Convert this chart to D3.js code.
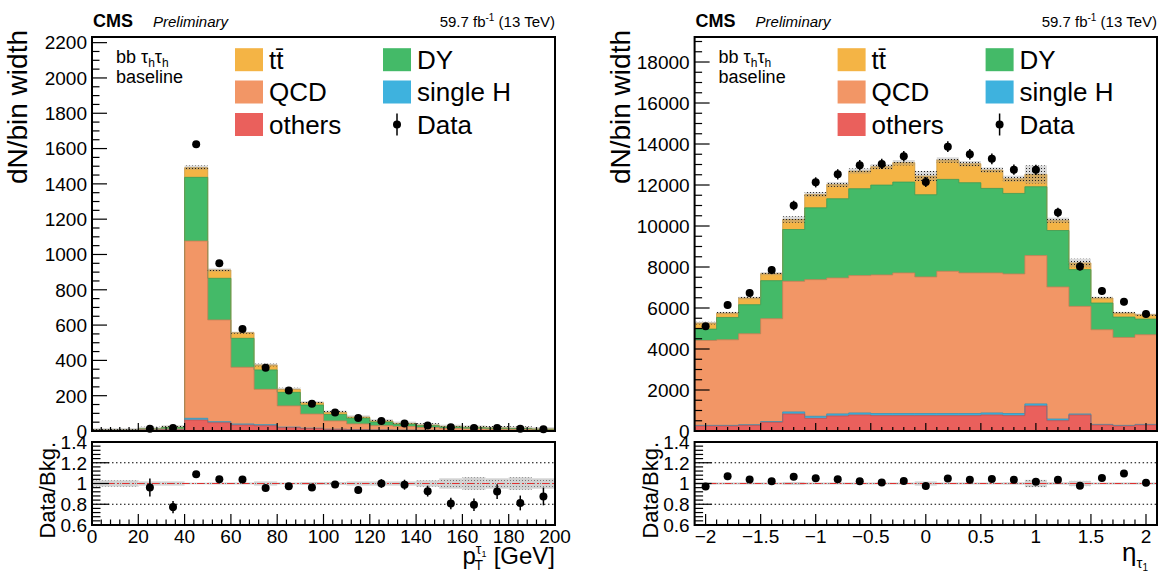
<!DOCTYPE html>
<html><head><meta charset="utf-8">
<script src="https://cdn.jsdelivr.net/npm/d3@7"></script>
<style>
body{margin:0;background:#fff}
svg{display:block}
text{font-family:"Liberation Sans",Arial,Helvetica,sans-serif;fill:#000}
</style>
</head><body><svg id="c" width="1159" height="574"></svg>
<script>
// ---------------- DATA ----------------
// Left: leading tau pT, 10 GeV bins
const ptEdges = [0,10,20,30,40,50,60,70,80,90,100,110,120,130,140,150,160,170,180,190,200];
const ptOthers  = [4,4,5,7,62,47,34,30,19,14,9,7,5,4,3,3,2,2,2,1];
const ptSingleH = [0,0,0,0,10,6,6,6,3,2,1,1,1,1,1,0,0,0,0,0];
const ptQCD     = [1,1,2,4,1004,576,321,200,120,80,47,32,24,20,16,12,10,8,7,5];
const ptDY      = [1,1,5,9,361,236,164,110,77,51,37,32,21,13,10,8,7,6,5,4];
const ptTT      = [0,0,1,2,55,47,32,28,17,13,12,7,6,5,4,3,3,2,2,2];
const ptData    = [null,null,12.5,17,1624,950,578,358,230,154,105,74,57,42.5,31.5,21,17.5,16.6,13,10.5];
const ptUnc     = [0.03,0.03,0.02,0.02,0.008,0.01,0.01,0.02,0.01,0.015,0.015,0.02,0.02,0.02,0.03,0.05,0.06,0.05,0.06,0.05];
const ptXTicks  = [0,20,40,60,80,100,120,140,160,180,200];
const ptXTickLabels = ["0","20","40","60","80","100","120","140","160","180","200"];
const ptYTicks  = [0,200,400,600,800,1000,1200,1400,1600,1800,2000,2200];
const ptYTickLabels = ["0","200","400","600","800","1000","1200","1400","1600","1800","2000","2200"];

// Right: leading tau eta, 0.2 bins
const etaEdges = [-2.1,-1.9,-1.7,-1.5,-1.3,-1.1,-0.9,-0.7,-0.5,-0.3,-0.1,0.1,0.3,0.5,0.7,0.9,1.1,1.3,1.5,1.7,1.9,2.1];
const etaOthers  = [245,245,277,424,831,619,734,782,750,750,750,750,750,782,750,1223,505,782,293,245,293];
const etaSingleH = [30,30,30,35,100,100,100,100,100,100,100,100,100,100,100,100,80,50,30,30,30];
const etaQCD     = [4140,4173,4436,5018,6371,6665,6631,6698,6762,6860,6664,6941,6860,6828,6811,7235,6440,5248,4616,4289,4371];
const etaDY      = [555,1092,1418,1858,2527,3504,3864,4238,4385,4434,4010,4483,4401,4124,3928,3357,2755,1793,1304,994,766];
const etaTT      = [293,212,326,342,489,652,700,863,896,945,913,945,929,896,718,603,505,326,244,196,212];
const etaData    = [5110,6150,6730,7850,11000,12130,12520,12965,13030,13400,12150,13870,13500,13275,12750,12740,10660,8030,6835,6310,5710];
const etaUnc     = [0.012,0.01,0.01,0.01,0.015,0.01,0.01,0.01,0.01,0.01,0.02,0.01,0.01,0.01,0.012,0.035,0.012,0.025,0.01,0.01,0.01];
const etaXTicks  = [-2,-1.5,-1,-0.5,0,0.5,1,1.5,2];
const etaXTickLabels = ["\u22122","\u22121.5","\u22121","\u22120.5","0","0.5","1","1.5","2"];
const etaYTicks  = [0,2000,4000,6000,8000,10000,12000,14000,16000,18000];
const etaYTickLabels = ["0","2000","4000","6000","8000","10000","12000","14000","16000","18000"];

const ratioTicks = [0.6,0.8,1,1.2,1.4];
const ratioTickLabels = ["0.6","0.8","1","1.2","1.4"];

const processNames  = ["others","single H","QCD","DY","t\u0074\u0304"];
const processColors = ["#EA605C","#3EB2DE","#F29666","#44BA68","#F4B445"];

// ---------------- DRAW ----------------
const svg = d3.select("#c");
const defs = svg.append("defs");
const hp = defs.append("pattern").attr("id","hatch").attr("width",3).attr("height",3).attr("patternUnits","userSpaceOnUse");
hp.append("rect").attr("width",3).attr("height",3).attr("fill","rgba(150,150,150,0.35)");
hp.append("rect").attr("width",1).attr("height",1).attr("fill","#222");
const rp = defs.append("pattern").attr("id","rhatch").attr("width",3).attr("height",3).attr("patternUnits","userSpaceOnUse");
rp.append("rect").attr("width",3).attr("height",3).attr("fill","#d2d2d2");
rp.append("rect").attr("width",1).attr("height",1).attr("fill","#777");

function rng(a,b,s){const out=[];const n=Math.round((b-a)/s);for(let i=0;i<=n;i++)out.push(+(a+i*s).toFixed(6));return out;}

function drawPanel(p){
  const g = svg.append("g");
  const fx0=p.fx0, fx1=p.fx1, ty0=37, ty1=431, ry0=442, ry1=525;
  const x = d3.scaleLinear().domain(p.xDomain).range([fx0,fx1]);
  const y = d3.scaleLinear().domain([0,p.yMax]).range([ty1,ty0]);
  const yr = d3.scaleLinear().domain([0.6,1.4]).range([ry1,ry0]);
  const n = p.edges.length-1;
  const cid = "clip"+p.id, rcid="rclip"+p.id;
  defs.append("clipPath").attr("id",cid).append("rect").attr("x",fx0).attr("y",ty0).attr("width",fx1-fx0).attr("height",ty1-ty0);
  defs.append("clipPath").attr("id",rcid).append("rect").attr("x",fx0).attr("y",ry0).attr("width",fx1-fx0).attr("height",ry1-ry0);

  // cumulative stack
  const layers=[p.others,p.singleH,p.qcd,p.dy,p.tt];
  let cum = new Array(n).fill(0);
  const cums = layers.map(l=>{cum=cum.map((c,i)=>c+l[i]);return cum.slice();});
  const total = cums[cums.length-1];
  const up = g.append("g").attr("clip-path",`url(#${cid})`);
  const stepPts = vals => p.edges.map((e,i)=>[e, vals[Math.min(i,n-1)]]);
  const area = d3.area().x(d=>x(d[0])).y0(y(0)).y1(d=>y(d[1])).curve(d3.curveStepAfter);
  const line = d3.line().x(d=>x(d[0])).y(d=>y(d[1])).curve(d3.curveStepAfter);
  for(let k=layers.length-1;k>=0;k--){
    up.append("path").attr("d",area(stepPts(cums[k]))).attr("fill",processColors[k]);
  }
  for(let k=layers.length-1;k>=0;k--){
    up.append("path").attr("d",line(stepPts(cums[k]))).attr("fill","none")
      .attr("stroke",d3.color(processColors[k]).darker(0.5)).attr("stroke-width",0.8);
  }
  // uncertainty band
  for(let i=0;i<n;i++){
    const u=p.unc[i];
    const yt=y(total[i]*(1+u)), yb=y(total[i]*(1-u));
    up.append("rect").attr("x",x(p.edges[i])).attr("y",Math.min(yt,yb-2)).attr("width",x(p.edges[i+1])-x(p.edges[i]))
      .attr("height",Math.max(yb-yt,2)).attr("fill","url(#hatch)");
  }
  // data
  const dg = g.append("g");
  for(let i=0;i<n;i++){
    const v=p.data[i]; if(v==null) continue;
    const cx = x((p.edges[i]+p.edges[i+1])/2);
    const w = p.binW;
    const err = Math.sqrt(v*w)/w;
    dg.append("line").attr("x1",cx).attr("x2",cx).attr("y1",y(v+err)).attr("y2",y(v-err)).attr("stroke","#000").attr("stroke-width",1.5);
    dg.append("circle").attr("cx",cx).attr("cy",y(v)).attr("r",4).attr("fill","#000");
  }

  // ratio pad
  const rg = g.append("g").attr("clip-path",`url(#${rcid})`);
  for(let i=0;i<n;i++){
    const u=p.unc[i];
    rg.append("rect").attr("x",x(p.edges[i])).attr("y",yr(1+u)).attr("width",x(p.edges[i+1])-x(p.edges[i]))
      .attr("height",Math.max(yr(1-u)-yr(1+u),1.5)).attr("fill","url(#rhatch)");
  }
  [0.8,1.2].forEach(v=>{
    rg.append("line").attr("x1",fx0).attr("x2",fx1).attr("y1",yr(v)).attr("y2",yr(v))
      .attr("stroke","#000").attr("stroke-width",1).attr("stroke-dasharray","1.5,2.5");
  });
  rg.append("line").attr("x1",fx0).attr("x2",fx1).attr("y1",yr(1)).attr("y2",yr(1))
    .attr("stroke","#e03030").attr("stroke-width",1.2).attr("stroke-dasharray","7,3,2,3");
  for(let i=0;i<n;i++){
    const v=p.data[i]; if(v==null) continue;
    const r=v/total[i];
    const cx = x((p.edges[i]+p.edges[i+1])/2);
    const w=p.binW, err=Math.sqrt(v*w)/w/total[i];
    rg.append("line").attr("x1",cx).attr("x2",cx).attr("y1",yr(r+err)).attr("y2",yr(r-err)).attr("stroke","#000").attr("stroke-width",1.5);
    rg.append("circle").attr("cx",cx).attr("cy",yr(r)).attr("r",4).attr("fill","#000");
  }

  // ticks
  const tk = g.append("g").attr("stroke","#000").attr("stroke-width",1.2);
  const xMinor = rng(p.xDomain[0],p.xDomain[1],p.xMinorStep);
  xMinor.forEach(v=>{
    const isMaj = p.xTicks.some(t=>Math.abs(t-v)<1e-6);
    const X=x(v);
    tk.append("line").attr("x1",X).attr("x2",X).attr("y1",ty1).attr("y2",ty1-(isMaj?8:4));
    tk.append("line").attr("x1",X).attr("x2",X).attr("y1",ry1).attr("y2",ry1-(isMaj?11:5.5));
  });
  rng(0,p.yMax,p.yMinorStep).forEach(v=>{
    if(v>p.yMax) return;
    const isMaj = p.yTicks.some(t=>Math.abs(t-v)<1e-6);
    tk.append("line").attr("x1",fx0).attr("x2",fx0+(isMaj?15:7.5)).attr("y1",y(v)).attr("y2",y(v));
  });
  rng(0.6,1.4,0.04).forEach(v=>{
    const isMaj = ratioTicks.some(t=>Math.abs(t-v)<1e-6);
    tk.append("line").attr("x1",fx0).attr("x2",fx0+(isMaj?17:8.5)).attr("y1",yr(v)).attr("y2",yr(v));
  });
  // frames
  g.append("rect").attr("x",fx0).attr("y",ty0).attr("width",fx1-fx0).attr("height",ty1-ty0).attr("fill","none").attr("stroke","#000").attr("stroke-width",2);
  g.append("rect").attr("x",fx0).attr("y",ry0).attr("width",fx1-fx0).attr("height",ry1-ry0).attr("fill","none").attr("stroke","#000").attr("stroke-width",2);

  // tick labels
  p.yTicks.forEach((v,i)=>{
    g.append("text").attr("x",fx0-5).attr("y",y(v)).attr("dy","0.36em").attr("text-anchor","end").attr("font-size",19).text(p.yTickLabels[i]);
  });
  ratioTicks.forEach((v,i)=>{
    g.append("text").attr("x",fx0-5).attr("y",yr(v)).attr("dy","0.36em").attr("text-anchor","end").attr("font-size",19).text(ratioTickLabels[i]);
  });
  p.xTicks.forEach((v,i)=>{
    g.append("text").attr("x",x(v)).attr("y",543).attr("text-anchor","middle").attr("font-size",19).text(p.xTickLabels[i]);
  });

  // axis titles
  const off = fx0-92;
  g.append("text").attr("transform",`translate(${27+off},30) rotate(-90)`).attr("text-anchor","end").attr("font-size",28).text("dN/bin width");
  g.append("text").attr("transform",`translate(${55+off},442) rotate(-90)`).attr("text-anchor","end").attr("font-size",22).text("Data/Bkg.");
  p.xTitle(g, fx1);

  // header
  g.append("text").attr("x",fx0+1).attr("y",27).attr("font-size",18).attr("font-weight","bold").text("CMS");
  g.append("text").attr("x",fx0+61).attr("y",27).attr("font-size",15).attr("font-style","italic").text("Preliminary");
  const lt = g.append("text").attr("x",fx1).attr("y",27).attr("text-anchor","end").attr("font-size",15);
  lt.append("tspan").text("59.7 fb");
  lt.append("tspan").attr("font-size",10).attr("dy",-6).text("-1");
  lt.append("tspan").attr("dy",6).text(" (13 TeV)");

  // category text
  const ct = g.append("text").attr("x",fx0+24).attr("y",63).attr("font-size",18);
  ct.append("tspan").text("bb \u03c4");
  ct.append("tspan").attr("font-size",12).attr("dy",4).text("h");
  ct.append("tspan").attr("dy",-4).text("\u03c4");
  ct.append("tspan").attr("font-size",12).attr("dy",4).text("h");
  g.append("text").attr("x",fx0+24).attr("y",83).attr("font-size",18).text("baseline");

  // legend
  const rows=[59.7,92,124.5];
  const col1=fx0+143, col2=fx0+291;
  const leg=[[col1,0,4],[col1,1,2],[col1,2,0],[col2,0,3],[col2,1,1]];
  leg.forEach(([cx,r,k])=>{
    g.append("rect").attr("x",cx).attr("y",rows[r]-11.5).attr("width",28).attr("height",23).attr("fill",processColors[k]);
    g.append("text").attr("x",cx+34).attr("y",rows[r]+9.3).attr("font-size",26).text(processNames[k]);
  });
  g.append("line").attr("x1",col2+14).attr("x2",col2+14).attr("y1",rows[2]-11).attr("y2",rows[2]+11).attr("stroke","#000").attr("stroke-width",1.5);
  g.append("circle").attr("cx",col2+14).attr("cy",rows[2]).attr("r",4).attr("fill","#000");
  g.append("text").attr("x",col2+34).attr("y",rows[2]+9.3).attr("font-size",26).text("Data");
}

drawPanel({
  id:"L", fx0:92, fx1:555, xDomain:[0,200], yMax:2232, binW:10,
  edges:ptEdges, others:ptOthers, singleH:ptSingleH, qcd:ptQCD, dy:ptDY, tt:ptTT, data:ptData, unc:ptUnc,
  xTicks:ptXTicks, xTickLabels:ptXTickLabels, xMinorStep:4,
  yTicks:ptYTicks, yTickLabels:ptYTickLabels, yMinorStep:50,
  xTitle:(g,xr)=>{
    const t=g.append("text").attr("x",xr).attr("y",564).attr("text-anchor","end").attr("font-size",24);
    t.append("tspan").text("p");
    t.append("tspan").attr("font-size",14).attr("dy",-10).text("\u03c4");
    t.append("tspan").attr("font-size",9).attr("dy",3).text("1");
    t.append("tspan").attr("font-size",14).attr("dx",-12).attr("dy",13).text("T");
    t.append("tspan").attr("dx",4).attr("dy",-6).text(" [GeV]");
  }
});
drawPanel({
  id:"R", fx0:694.6, fx1:1157, xDomain:[-2.1,2.1], yMax:19220, binW:0.2,
  edges:etaEdges, others:etaOthers, singleH:etaSingleH, qcd:etaQCD, dy:etaDY, tt:etaTT, data:etaData, unc:etaUnc,
  xTicks:etaXTicks, xTickLabels:etaXTickLabels, xMinorStep:0.1,
  yTicks:etaYTicks, yTickLabels:etaYTickLabels, yMinorStep:500,
  xTitle:(g,xr)=>{
    const t=g.append("text").attr("x",xr-9).attr("y",561).attr("text-anchor","end").attr("font-size",26);
    t.append("tspan").text("\u03b7");
    t.append("tspan").attr("font-size",15).attr("dy",7).text("\u03c4");
    t.append("tspan").attr("font-size",10).attr("dy",3).text("1");
  }
});
</script></body></html>
